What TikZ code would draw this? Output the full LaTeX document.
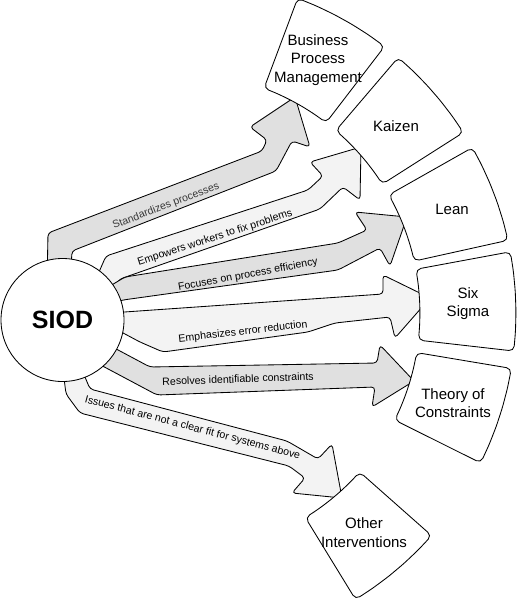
\documentclass[tikz,border=0pt]{standalone}
\usepackage{fontspec}
\setmainfont{Liberation Sans}
\usetikzlibrary{calc}
\definecolor{fdark}{HTML}{E0E0E0}
\definecolor{flight}{HTML}{F3F3F3}
\newcommand\drawsector[2]{%
  \draw[sect] plot[domain=#1:#2, samples=6] ({180+240*cos(\x)},{313-240*sin(\x)})
    -- plot[domain=#2:#1, samples=6] ({180+336*cos(\x)},{313-336*sin(\x)}) -- cycle;}
\begin{document}
\begin{tikzpicture}[x=1pt,y=-1pt,
  fatarrow/.style={draw=black, line width=0.85pt, line join=round, rounded corners=3.5pt},
  lbl/.style={font=\fontsize{10.6}{12}\selectfont, inner sep=0pt},
  boxtxt/.style={font=\fontsize{15}{18.5}\selectfont, align=center, inner sep=0pt},
  sect/.style={draw=black, fill=white, line width=0.85pt, rounded corners=5pt}]
\useasboundingbox (0,0) rectangle (520,600);
% fat arrows
\draw[fatarrow, fill=fdark] (47,285) -- (48,233) -- (262,151) -- (267,140) -- (250,127) -- (295,97)
  -- (310,147) -- (292,141) -- (276,171) -- (72,251) -- (70,285) -- cycle;
\draw[fatarrow, fill=flight] (92,288) -- (106,256) -- (308,190) -- (323,176) -- (310,162) -- (361,147)
  -- (360,200) -- (343,187) -- (320,209) -- (120,279) -- (104,298) -- cycle;
\draw[fatarrow, fill=fdark] (100,292) -- (125,277) -- (338,243) -- (367,230) -- (355,212) -- (407,217)
  -- (390,266) -- (380,248) -- (338,270) -- (123,300) -- (100,306) -- cycle;
\draw[fatarrow, fill=flight] (110,313) -- (383,294) -- (383,275) -- (430,298) -- (395,338) -- (390,317)
  -- (335,323) -- (308,332) -- (163,352) -- (140,342) -- (110,326) -- cycle;
\draw[fatarrow, fill=fdark] (105,343) -- (150,367) -- (377,363) -- (380,345) -- (414,381) -- (372,407)
  -- (375,387) -- (157,395) -- (95,362) -- cycle;
\draw[fatarrow, fill=flight] (80,365) -- (90,389) -- (287,441) -- (318,459) -- (332,444) -- (342,498)
  -- (292,493) -- (305,478) -- (289,466) -- (80,413) -- (66,394) -- (63,370) -- cycle;
% target sectors
\drawsector{52.5}{69.5}
\drawsector{32.5}{49.5}
\drawsector{12.5}{29.5}
\drawsector{-6.5}{10.5}
\drawsector{-26.5}{-9.5}
\drawsector{-58.5}{-41.5}
\node[boxtxt] (bpm) at (318,60) {Business\\Process\\Management};
\node[boxtxt] (kaizen) at (396,126) {Kaizen};
\node[boxtxt] (lean) at (452,209) {Lean};
\node[boxtxt] (six) at (468,303.5) {Six\\Sigma};
\node[boxtxt] (toc) at (453,403) {Theory of\\Constraints};
\node[boxtxt] (other) at (364,532.5) {Other\\Interventions};
% source
\node[circle, draw=black, fill=white, line width=0.85pt, minimum size=123pt, inner sep=0pt,
  font=\bfseries\fontsize{25}{30}\selectfont] (siod) at (62.5,320) {SIOD};
% labels
\node[lbl, rotate=21, text=black!78] (l1) at (166,206) {Standardizes processes};
\node[lbl, rotate=18] (l2) at (215,238) {Empowers workers to fix problems};
\node[lbl, rotate=10.5] (l3) at (248,275) {Focuses on process efficiency};
\node[lbl, rotate=6.5] (l4) at (243,332) {Emphasizes error reduction};
\node[lbl, rotate=2] (l5) at (238,379) {Resolves identifiable constraints};
\node[lbl, rotate=-14.8] (l6) at (192.5,428) {Issues that are not a clear fit for systems above};
\end{tikzpicture}
\end{document}
